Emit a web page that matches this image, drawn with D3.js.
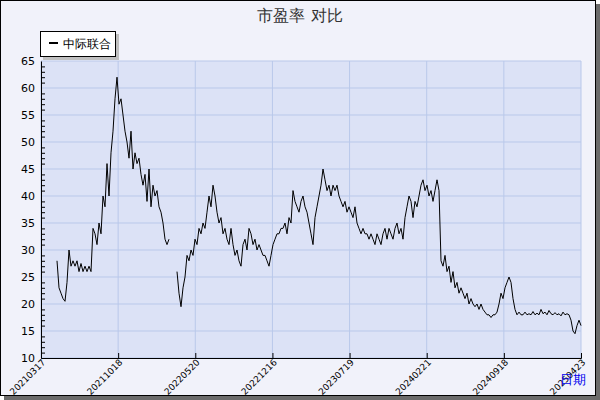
<!DOCTYPE html>
<html><head><meta charset="utf-8">
<script src="https://cdn.jsdelivr.net/npm/d3@7"></script>
<style>body{margin:0;background:#fff}text{font-family:"DejaVu Sans",sans-serif}</style>
</head><body><svg id="c" width="600" height="400"></svg>
<script>
var title = "市盈率  对比";
var seriesName = "中际联合";
var tickLabels = ["20210317","20211018","20220520","20221216","20230719","20240221","20240918","20250423"];
var yTicks = [10,15,20,25,30,35,40,45,50,55,60,65];
// PE values, one per ~trading-week step, null = gap
var pe = [28,23,22,21,20.5,24,30,27,28,27,28,26,27.5,26,27,26,27,26,34,33,31,35,33,40,38,46,40,48,
	52,58,62,57,58,55,52,50,47,52,45,48,46,47,44,42,44,39,45,38,42,40,41,38,37,35,32,31,32,
	null,null,null,
	26,22,19.5,23,25,29,28,30,29,32,31,34,33,35,34,37,40,38,42,40,37,35,36,33,34,32,31,34,31,29,30,28,27,
	31,32,30,34,33,31,32,30,31,30,29,29,28,27,29,31,32,33,33,34,34,35,33,36,35,41,39,38,37,39,40,38,37,35,
	33,31,36,38,40,42,45,43,41,42,40,42,41,42,40,39,38,39,37,38,37,36,38,35,34,33,34,33,33,32,33,32,31,33,
	32,31,33,34,32,34,33,32,34,35,33,34,32,36,38,40,39,36,39,38,40,42,43,41,42,40,41,39,41,43,41,
	28,27,29,26,27,24,26,23,24,22,23,22,21,22,20,21,20,19.5,20,19,20,19,18.5,18,18,17.5,18,18,18.5,20,
	22,21,23,24,25,24,21,19,18,18.5,18,18,18.5,18,18.2,18,18.6,18,18.3,18,19,18.2,18.5,18,18.8,18.2,18,
	18.4,18,18.2,17.8,18.5,18,18.2,18,17,15,14.5,16,17,16];

var svg = d3.select("#c");
var W = 600, H = 400;
var m = {l: 41, r: 19, t: 61, b: 42};

svg.append("rect").attr("x", 4).attr("y", 4).attr("width", W - 4).attr("height", H - 4).attr("fill", "#6b6b6b");
svg.append("rect").attr("x", 0.5).attr("y", 0.5).attr("width", W - 5).attr("height", H - 5)
	.attr("fill", "#f1f2fa").attr("stroke", "#000");

svg.append("text").attr("x", 300).attr("y", 21).attr("text-anchor", "middle")
	.attr("font-size", 16).attr("fill", "#333").text(title);

var x = d3.scaleLinear().domain([-8, pe.length - 1]).range([m.l, W - m.r]);
var y = d3.scaleLinear().domain([10, 65]).range([H - m.b, m.t]);

var g = svg.append("g");
g.append("rect").attr("x", m.l).attr("y", m.t).attr("width", W - m.r - m.l).attr("height", H - m.b - m.t).attr("fill", "#dce2f6");

var tickPos = tickLabels.map(function(d, i) { return -8 + i * (pe.length - 1 + 8) / (tickLabels.length - 1); });

g.selectAll(".hg").data(yTicks).enter().append("line")
	.attr("x1", m.l).attr("x2", W - m.r).attr("y1", function(d) { return y(d); }).attr("y2", function(d) { return y(d); })
	.attr("stroke", "#b9c8ea");
g.selectAll(".vg").data(tickPos).enter().append("line")
	.attr("y1", m.t).attr("y2", H - m.b).attr("x1", function(d) { return x(d); }).attr("x2", function(d) { return x(d); })
	.attr("stroke", "#b9c8ea");

var line = d3.line().defined(function(d) { return d != null; })
	.x(function(d, i) { return x(i); }).y(function(d) { return y(d); });
g.append("path").datum(pe).attr("d", line).attr("fill", "none").attr("stroke", "#000").attr("stroke-width", 1);

var yAxis = g.append("g").attr("transform", "translate(" + m.l + ",0)")
	.call(d3.axisLeft(y).tickValues(d3.range(10, 65.1, 1)).tickSize(0).tickFormat(""));
yAxis.selectAll(".tick line").attr("x2", function(d) { return d % 5 == 0 ? 0 : 4; }).attr("stroke", "#000");
yAxis.select(".domain").attr("stroke", "#000");
g.selectAll(".yl").data(yTicks).enter().append("text")
	.attr("x", m.l - 6).attr("y", function(d) { return y(d) + 4; }).attr("text-anchor", "end")
	.attr("font-size", 11).text(function(d) { return d; });

var xAxis = g.append("g").attr("transform", "translate(0," + (H - m.b) + ")")
	.call(d3.axisBottom(x).tickValues(tickPos).tickSize(-5).tickFormat(""));
xAxis.selectAll("line, path").attr("stroke", "#000");
g.selectAll(".xl").data(tickLabels).enter().append("text")
	.attr("transform", function(d, i) { return "translate(" + (x(tickPos[i]) + 5) + "," + (H - m.b + 5) + ") rotate(-45)"; })
	.attr("text-anchor", "end").attr("font-size", 9).text(function(d) { return d; });

svg.append("text").attr("x", 573).attr("y", 384).attr("text-anchor", "middle")
	.attr("font-size", 13).attr("fill", "#0000ee").text("日期");

var lg = svg.append("g").attr("transform", "translate(40,31)");
lg.append("rect").attr("x", 3).attr("y", 3).attr("width", 76).attr("height", 26).attr("fill", "#c0c0c0");
lg.append("rect").attr("x", 0.5).attr("y", 0.5).attr("width", 75).attr("height", 25).attr("fill", "#fff").attr("stroke", "#000");
lg.append("line").attr("x1", 9).attr("x2", 18).attr("y1", 12).attr("y2", 12).attr("stroke", "#000").attr("stroke-width", 2);
lg.append("text").attr("x", 23).attr("y", 17).attr("font-size", 12).text(seriesName);
</script></body></html>
